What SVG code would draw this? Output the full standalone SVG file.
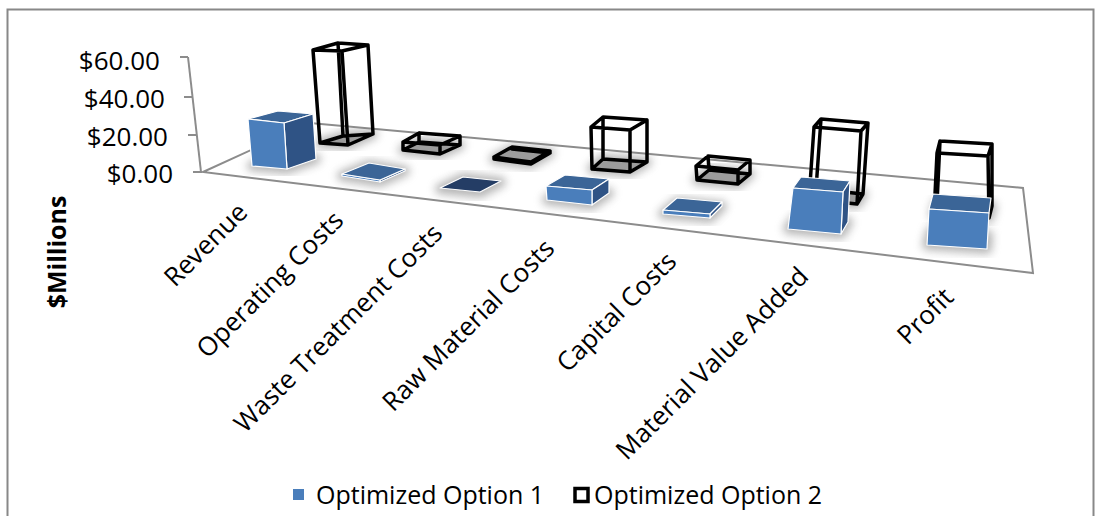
<svg xmlns="http://www.w3.org/2000/svg" width="1101" height="516" viewBox="0 0 1101 516">
<defs>
<filter id="blur" x="-50%" y="-50%" width="200%" height="200%"><feGaussianBlur stdDeviation="4"/></filter>
<style>
.lbl{font-family:"Open Sans","Liberation Sans",sans-serif;font-size:26px;fill:#000}
.leg{font-family:"Open Sans","Liberation Sans",sans-serif;font-size:25px;fill:#000}
.ttl{font-family:"Open Sans","Liberation Sans",sans-serif;font-size:25px;font-weight:bold;fill:#000}
.axis{fill:none;stroke:#8c8c8c;stroke-width:2}
.front{fill:#4a7ebb;stroke:#fff;stroke-width:1.2;stroke-linejoin:round}
.top{fill:#3b6597;stroke:#fff;stroke-width:1.2;stroke-linejoin:round}
.side{fill:#2f5385;stroke:#fff;stroke-width:1.2;stroke-linejoin:round}
.dark{fill:#243d65;stroke:#fff;stroke-width:1.2;stroke-linejoin:round}
.wire{fill:none;stroke:#000;stroke-width:3.5;stroke-linejoin:round;stroke-linecap:round}
.wbot{fill:#9c9c9c}
.shadow{fill:#7a7a7a;stroke:#7a7a7a;stroke-width:10;stroke-linejoin:round;opacity:.55;filter:url(#blur)}
</style>
</defs>
<rect x="0" y="0" width="1101" height="516" fill="#fff"/>
<rect x="7.5" y="9.5" width="1086" height="520" fill="none" stroke="#888" stroke-width="2"/>

<g id="axes">
<polygon class="axis" points="203,172 310,123 1023,188 1033,273" fill="#fff"/>
<line class="axis" x1="188" y1="57" x2="201" y2="172"/>
<line class="axis" x1="180" y1="57" x2="188" y2="57"/>
<line class="axis" x1="184" y1="97" x2="192.5" y2="97"/>
<line class="axis" x1="188" y1="135" x2="197" y2="135"/>
<line class="axis" x1="193" y1="172" x2="202" y2="172"/>
</g>

<g id="y-labels">
<text class="lbl" x="160" y="70" text-anchor="end">$60.00</text>
<text class="lbl" x="165" y="108" text-anchor="end">$40.00</text>
<text class="lbl" x="168" y="146" text-anchor="end">$20.00</text>
<text class="lbl" x="173" y="183" text-anchor="end">$0.00</text>
</g>
<g id="y-title"><text class="ttl" transform="translate(66,252) rotate(-90)" text-anchor="middle">$Millions</text></g>

<g id="shadows">
<polygon class="shadow" points="320,143 348,145 373,134 343,136"/>
<polygon class="shadow" points="403,150 440,154 460,145 419,142"/>
<polygon class="shadow" points="494,159 531,164 550,153 512,149"/>
<polygon class="shadow" points="592,169 630,172 647,162 603,159"/>
<polygon class="shadow" points="697,180 738,184 750,174 709,170"/>
<polygon class="shadow" points="809,199 857,204 863,194 816,189"/>
<polygon class="shadow" points="934,215 989,218 992,206 937,203"/>
<polygon class="shadow" points="252,166 287,169 316,159 281,156"/>
<polygon class="shadow" points="342,176 380,182 405,171 369,165"/>
<polygon class="shadow" points="440,189 480,193 501,182 463,178"/>
<polygon class="shadow" points="547,200 592,205 609,193 565,189"/>
<polygon class="shadow" points="663,214 710,218 722,206 677,202"/>
<polygon class="shadow" points="788,229 841,234 848,222 796,218"/>
<polygon class="shadow" points="927,245 987,249 988,235 931,231"/>
</g>

<g id="opt2-revenue">
<polygon class="wbot" points="320,143 348,145 373,134 343,136"/>
<path class="wire" d="M313,50 L342,51 L348,145 L320,143 Z M338,43 L368,45 L373,134 L343,136 Z M313,50 L338,43 M342,51 L368,45 M348,145 L373,134 M320,143 L343,136"/>
</g>
<g id="opt2-operating">
<polygon class="wbot" points="403,150 440,154 460,145 419,142"/>
<path class="wire" d="M403,142 L440,145 L440,154 L403,150 Z M419,133 L460,136 L460,145 L419,142 Z M403,142 L419,133 M440,145 L460,136 M440,154 L460,145 M403,150 L419,142"/>
</g>
<g id="opt2-waste">
<polygon class="wbot" points="494,158 531,163 550,152 512,148"/>
<path class="wire" d="M494,157 L531,162 L531,164 L494,159 Z M512,147 L550,151 L550,153 L512,149 Z M494,157 L512,147 M531,162 L550,151 M531,164 L550,153"/>
</g>
<g id="opt2-raw">
<polygon class="wbot" points="592,169 630,172 647,162 603,159"/>
<path class="wire" d="M591,127 L630,130 L630,172 L592,169 Z M603,117 L647,120 L647,162 L603,159 Z M591,127 L603,117 M630,130 L647,120 M630,172 L647,162 M592,169 L603,159"/>
</g>
<g id="opt2-capital">
<polygon class="wbot" points="697,180 738,184 750,174 709,170"/>
<path class="wire" d="M696,166 L738,170 L738,184 L697,180 Z M708,156 L750,160 L750,174 L709,170 Z M696,166 L708,156 M738,170 L750,160 M738,184 L750,174 M697,180 L709,170"/>
</g>
<g id="opt2-mva">
<polygon class="wbot" points="809,199 857,204 863,194 816,189"/>
<path class="wire" d="M814,127 L861,131 L857,204 L809,199 Z M821,119 L868,123 L863,194 L816,189 Z M814,127 L821,119 M861,131 L868,123 M857,204 L863,194 M809,199 L816,189"/>
</g>
<g id="opt2-profit">
<polygon class="wbot" points="934,215 989,218 992,206 937,203"/>
<path class="wire" d="M937,153 L988,156 L989,218 L934,215 Z M940,141 L992,144 L992,206 L937,203 Z M937,153 L940,141 M988,156 L992,144 M989,218 L992,206 M934,215 L937,203"/>
</g>

<g id="opt1-revenue">
<polygon class="top" points="248,119 278,111 313,114 284,123"/>
<polygon class="side" points="284,123 313,114 316,159 287,169"/>
<polygon class="front" points="248,119 284,123 287,169 252,166"/>
</g>
<g id="opt1-operating">
<polygon class="side" points="380,180 405,169 405,171 380,182"/>
<polygon class="front" points="342,174 380,180 380,182 342,176"/>
<polygon class="top" points="342,174 369,163 405,169 380,180"/>
</g>
<g id="opt1-waste">
<polygon class="dark" points="440,188 463,177 501,181 480,192"/>
</g>
<g id="opt1-raw">
<polygon class="top" points="546,186 565,175 609,179 592,190"/>
<polygon class="side" points="592,190 609,179 609,193 592,205"/>
<polygon class="front" points="546,186 592,190 592,205 547,200"/>
</g>
<g id="opt1-capital">
<polygon class="top" points="663,210 677,198 722,202 710,214"/>
<polygon class="side" points="710,214 722,202 722,206 710,218"/>
<polygon class="front" points="663,210 710,214 710,218 663,214"/>
</g>
<g id="opt1-mva">
<polygon class="top" points="793,188 801,177 850,181 843,192"/>
<polygon class="side" points="843,192 850,181 848,222 841,234"/>
<polygon class="front" points="793,188 843,192 841,234 788,229"/>
</g>
<g id="opt1-profit">
<polygon class="top" points="929,209 933,194 991,198 989,213"/>
<polygon class="front" points="929,209 989,213 987,249 927,245"/>
</g>

<g id="x-labels">
<text class="lbl" transform="translate(249,214) rotate(-45)" text-anchor="end">Revenue</text>
<text class="lbl" transform="translate(345,222) rotate(-45)" text-anchor="end">Operating Costs</text>
<text class="lbl" transform="translate(444,235) rotate(-45)" text-anchor="end">Waste Treatment Costs</text>
<text class="lbl" transform="translate(556,250) rotate(-45)" text-anchor="end">Raw Material Costs</text>
<text class="lbl" transform="translate(678,263) rotate(-45)" text-anchor="end">Capital Costs</text>
<text class="lbl" transform="translate(810,278) rotate(-45)" text-anchor="end">Material Value Added</text>
<text class="lbl" transform="translate(955,299) rotate(-45)" text-anchor="end">Profit</text>
</g>

<g id="legend">
<rect x="293" y="489" width="11" height="11" fill="#4a7ebb"/>
<text class="leg" x="316" y="504">Optimized Option 1</text>
<rect x="575" y="488.5" width="13" height="13" fill="#fff" stroke="#000" stroke-width="3.5"/>
<text class="leg" x="594" y="504">Optimized Option 2</text>
</g>
</svg>
